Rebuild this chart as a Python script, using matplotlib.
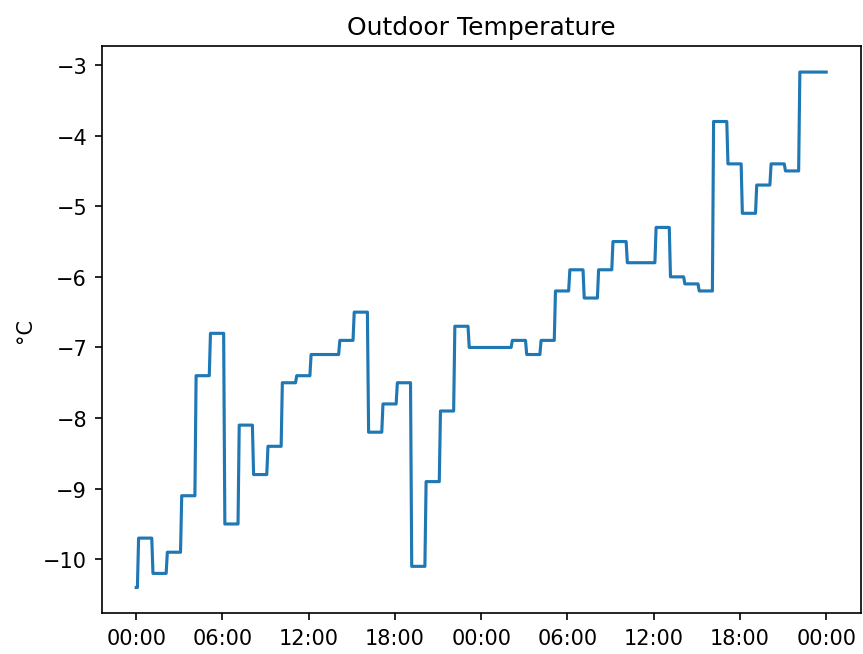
import matplotlib
matplotlib.use("Agg")
import matplotlib.pyplot as plt
import matplotlib.dates as mdates
import numpy as np
import pandas as pd

# Hourly temperature readings (°C); each value holds from ~hh:10 of its hour
start_value = -10.4
hourly_temps = [
    -9.7, -10.2, -9.9, -9.1, -7.4, -6.8, -9.5, -8.1, -8.8, -8.4, -7.5, -7.4,
    -7.1, -7.1, -6.9, -6.5, -8.2, -7.8, -7.5, -10.1, -8.9, -7.9, -6.7, -7.0,
    -7.0, -7.0, -6.9, -7.1, -6.9, -6.2, -5.9, -6.3, -5.9, -5.5, -5.8, -5.8,
    -5.3, -6.0, -6.1, -6.2, -3.8, -4.4, -5.1, -4.7, -4.4, -4.5, -3.1, -3.1,
]
start_time = "2021-02-10 00:00"
end_time = "2021-02-12 00:00"
sample_freq = "5min"
change_minute = 10

times = pd.date_range(start_time, end_time, freq=sample_freq)
t0 = times[0]
elapsed_h = (times - t0) / pd.Timedelta(hours=1)
values = []
for t, eh in zip(times, elapsed_h):
    h = int(np.floor(eh))
    if h >= len(hourly_temps):
        values.append(hourly_temps[-1])
        continue
    if t.minute >= change_minute:
        values.append(hourly_temps[h])
    else:
        values.append(start_value if h == 0 else hourly_temps[h - 1])

DPI = 150
fig = plt.figure(figsize=(863 / DPI, 655 / DPI), dpi=DPI)
ax = fig.add_axes([101.7 / 863, 1 - 614.3 / 655, (860.7 - 101.7) / 863, (614.3 - 47.3) / 655])
ax.plot(times, values, color="#1f77b4", linewidth=1.5)
ax.set_title("Outdoor Temperature")
ax.set_ylabel("°C")
ax.xaxis.set_major_locator(mdates.HourLocator(byhour=[0, 6, 12, 18]))
ax.xaxis.set_major_formatter(mdates.DateFormatter("%H:%M"))
fig.savefig("out.png", dpi=DPI)
